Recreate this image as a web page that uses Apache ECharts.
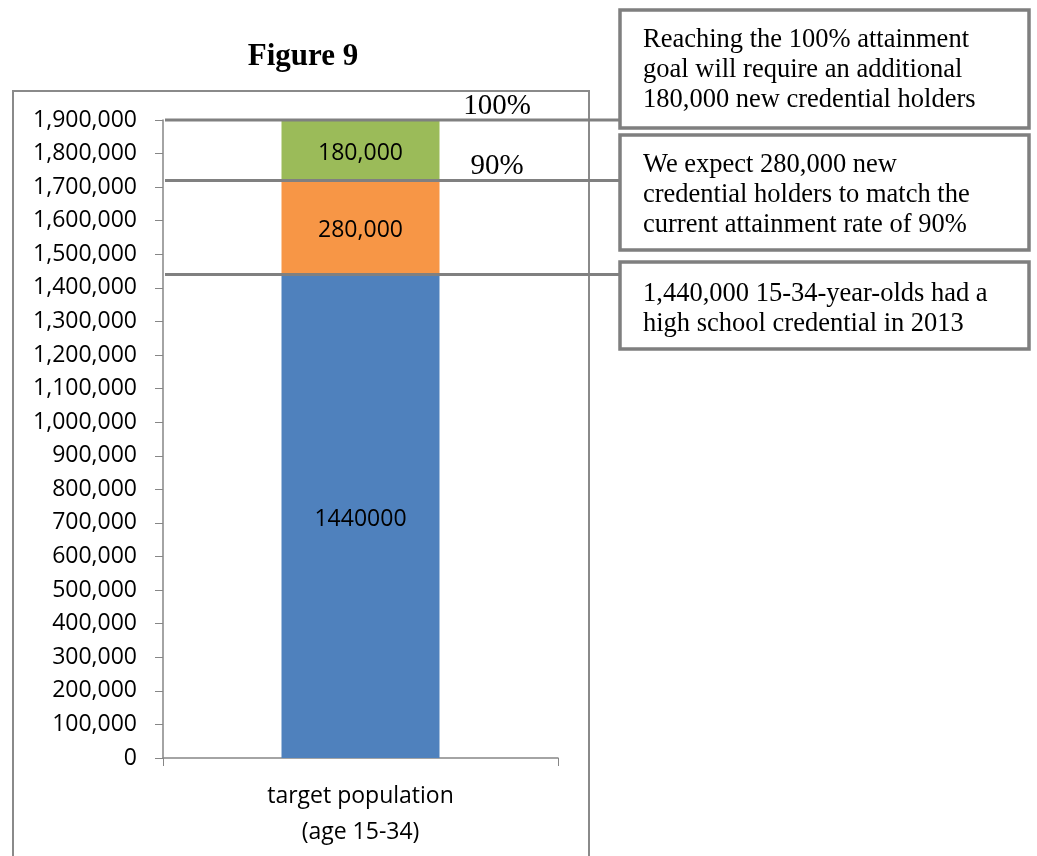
<!DOCTYPE html>
<html>
<head>
<meta charset="utf-8">
<script src="https://cdn.jsdelivr.net/npm/echarts@6/dist/echarts.min.js"></script>
<style>
html,body{margin:0;padding:0;background:#fff;}
#chart{width:1037px;height:856px;}
</style>
</head>
<body>
<div id="chart"></div>
<script>
// ---- data ----
const categories = ['target population\n(age 15-34)'];
const seriesNames = ['2013 holders', 'Expected new', 'Additional to goal'];
const baseValues = [1440000];
const expectedValues = [280000];
const additionalValues = [180000];
const seriesColors = ['#4F81BD', '#F79646', '#9BBB59'];
const yMin = 0, yMax = 1900000, yInterval = 100000;
const refLevels = [1900000, 1720000, 1440000];
const refLabels = ['100%', '90%', ''];
const noteTexts = [
  'Reaching the 100% attainment\ngoal will require an additional\n180,000 new credential holders',
  'We expect 280,000 new\ncredential holders to match the\ncurrent attainment rate of 90%',
  '1,440,000 15-34-year-olds had a\nhigh school credential in 2013'
];

const sans = '"Open Sans", "Noto Sans", sans-serif';
const serif = '"Liberation Serif", "DejaVu Serif", serif';
const fmtComma = v => Number(v).toLocaleString('en-US');

const chart = echarts.init(document.getElementById('chart'), null, {renderer: 'canvas'});

function barSeries(name, data, color, fmt) {
  return {
    name: name, type: 'bar', stack: 'total', data: data, barWidth: '40%',
    itemStyle: {color: color},
    label: {show: true, position: 'inside', offset: [0, 3], color: '#000', fontFamily: sans, fontSize: 23,
            formatter: p => fmt(p.value)},
    emphasis: {disabled: true}
  };
}

chart.setOption({
  animation: false,
  backgroundColor: '#fff',
  grid: {left: 163, right: 479, top: 120, bottom: 98, containLabel: false},
  xAxis: {
    type: 'category', data: categories,
    axisLine: {lineStyle: {color: '#868686', width: 1.5}},
    axisTick: {show: true, length: 8, lineStyle: {color: '#868686'}},
    axisLabel: {color: '#000', fontFamily: sans, fontSize: 23, lineHeight: 36, margin: 20}
  },
  yAxis: {
    type: 'value', min: yMin, max: yMax, interval: yInterval,
    axisLine: {show: true, lineStyle: {color: '#868686', width: 1.5}},
    axisTick: {show: true, length: 8, lineStyle: {color: '#868686'}},
    splitLine: {show: false},
    axisLabel: {color: '#000', fontFamily: sans, fontSize: 23, margin: 26, formatter: fmtComma}
  },
  series: [
    barSeries(seriesNames[0], baseValues, seriesColors[0], v => String(v)),
    barSeries(seriesNames[1], expectedValues, seriesColors[1], fmtComma),
    barSeries(seriesNames[2], additionalValues, seriesColors[2], fmtComma)
  ]
});

// ---- annotations (lines tied to data via the axis scale) ----
const boxLeft = 620, boxRight = 1029;
const boxTops = [10, 135, 262];
const boxBottoms = [128, 250, 349];
const textTops = [25, 150, 279];
const elements = [];

// outer chart border
elements.push({type: 'rect', shape: {x: 13, y: 91, width: 576, height: 820},
  style: {fill: 'none', stroke: '#8a8a8a', lineWidth: 2}, z: 1, silent: true});

// title
elements.push({type: 'text', x: 303, y: 57, style: {text: 'Figure 9', font: 'bold 31px ' + serif,
  fill: '#000', align: 'center', verticalAlign: 'middle'}, z: 10});

refLevels.forEach((lv, i) => {
  const y = chart.convertToPixel({yAxisIndex: 0}, lv);
  elements.push({type: 'line', shape: {x1: 165, y1: y, x2: boxLeft, y2: y},
    style: {stroke: '#808080', lineWidth: 3}, z: 20, silent: true});
  if (refLabels[i]) {
    elements.push({type: 'text', x: 497, y: y - 14, style: {text: refLabels[i], font: '29px ' + serif,
      fill: '#000', align: 'center', verticalAlign: 'middle'}, z: 21});
  }
});

noteTexts.forEach((t, i) => {
  elements.push({type: 'rect', shape: {x: boxLeft, y: boxTops[i], width: boxRight - boxLeft, height: boxBottoms[i] - boxTops[i]},
    style: {fill: '#fff', stroke: '#7f7f7f', lineWidth: 3.5}, z: 22, silent: true});
  elements.push({type: 'text', x: 643, y: textTops[i], style: {text: t, font: '26.5px ' + serif,
    lineHeight: 30, fill: '#000', align: 'left', verticalAlign: 'top'}, z: 23});
});

chart.setOption({graphic: {elements: elements}});
</script>
</body>
</html>
